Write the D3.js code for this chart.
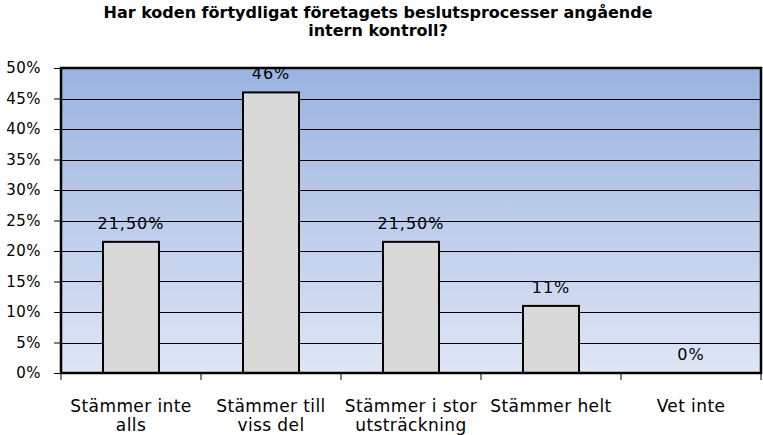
<!DOCTYPE html>
<html>
<head>
<meta charset="utf-8">
<script src="https://cdn.jsdelivr.net/npm/d3@7"></script>
<style>
  body { margin: 0; background: #fff; }
  svg { display: block; }
</style>
</head>
<body>
<div id="chart" style="width:763px;height:435px"></div>
<script>
var titleLines = ["Har koden förtydligat företagets beslutsprocesser angående", "intern kontroll?"];
var categories = [["Stämmer inte", "alls"], ["Stämmer till", "viss del"], ["Stämmer i stor", "utsträckning"], ["Stämmer helt"], ["Vet inte"]];
var values = [21.5, 46, 21.5, 11, 0];
var valueLabels = ["21,50%", "46%", "21,50%", "11%", "0%"];
var yTicks = [0, 5, 10, 15, 20, 25, 30, 35, 40, 45, 50];

var width = 763, height = 435;
var plot = { left: 61, right: 761, top: 68, bottom: 373 };
var font = "'DejaVu Sans', Verdana, sans-serif";

var svg = d3.select("#chart").append("svg")
  .attr("width", width)
  .attr("height", height);

// background gradient of plot area
var grad = svg.append("defs").append("linearGradient")
  .attr("id", "bg").attr("x1", 0).attr("y1", 0).attr("x2", 0).attr("y2", 1);
grad.append("stop").attr("offset", "0%").attr("stop-color", "#9ab3e0");
grad.append("stop").attr("offset", "100%").attr("stop-color", "#dfe6f5");

// title
svg.append("g").selectAll("text")
  .data(titleLines)
  .enter().append("text")
  .attr("x", 378)
  .attr("y", function(d, i) { return 18 + i * 18; })
  .attr("text-anchor", "middle")
  .style("font-family", font)
  .style("font-weight", "bold")
  .style("font-size", "16px")
  .text(function(d) { return d; });

var x = d3.scaleBand()
  .domain(d3.range(categories.length))
  .range([plot.left, plot.right])
  .paddingInner(0.6)
  .paddingOuter(0.3);

var xCat = d3.scaleBand()
  .domain(d3.range(categories.length))
  .range([plot.left, plot.right]);

var y = d3.scaleLinear()
  .domain([0, 50])
  .range([plot.bottom, plot.top]);

svg.append("rect")
  .attr("x", plot.left).attr("y", plot.top)
  .attr("width", plot.right - plot.left)
  .attr("height", plot.bottom - plot.top)
  .attr("fill", "url(#bg)");

// gridlines
svg.append("g").selectAll("line")
  .data(yTicks.slice(1, -1))
  .enter().append("line")
  .attr("x1", plot.left).attr("x2", plot.right)
  .attr("y1", function(d) { return Math.round(y(d)) + 0.5; })
  .attr("y2", function(d) { return Math.round(y(d)) + 0.5; })
  .attr("stroke", "#000").attr("stroke-width", 1);

// y axis
var yAxis = svg.append("g")
  .attr("transform", "translate(" + plot.left + ",0)")
  .call(d3.axisLeft(y).tickValues(yTicks).tickSize(7).tickPadding(13)
    .tickFormat(function(d) { return d + "%"; }));
yAxis.select(".domain").remove();
yAxis.selectAll("line").attr("stroke", "#000");
yAxis.selectAll("text")
  .style("font-family", font)
  .style("font-size", "15px")
  .style("letter-spacing", "0.5px")
  .attr("fill", "#000");

// x axis ticks
svg.append("g")
  .attr("transform", "translate(0," + plot.bottom + ")")
  .selectAll("line")
  .data(d3.range(categories.length + 1))
  .enter().append("line")
  .attr("x1", function(d) { return plot.left + d * xCat.step(); })
  .attr("x2", function(d) { return plot.left + d * xCat.step(); })
  .attr("y1", 0).attr("y2", 7)
  .attr("stroke", "#000");

// category labels
var catLabel = svg.append("g").selectAll("text")
  .data(categories)
  .enter().append("text")
  .attr("text-anchor", "middle")
  .attr("x", function(d, i) { return xCat(i) + xCat.bandwidth() / 2; })
  .attr("y", 412)
  .style("font-family", font)
  .style("font-size", "17px")
  .style("letter-spacing", "0.4px")
  .attr("fill", "#000");
catLabel.selectAll("tspan")
  .data(function(d) { return d; })
  .enter().append("tspan")
  .attr("x", function() { return d3.select(this.parentNode).attr("x"); })
  .attr("dy", function(d, i) { return i === 0 ? 0 : 19; })
  .text(function(d) { return d; });

// bars
svg.append("g").selectAll("rect")
  .data(values.map(function(v, i) { return { v: v, i: i }; }).filter(function(d) { return d.v > 0; }))
  .enter().append("rect")
  .attr("x", function(d) { return x(d.i); })
  .attr("y", function(d) { return y(d.v); })
  .attr("width", x.bandwidth())
  .attr("height", function(d) { return y(0) - y(d.v); })
  .attr("fill", "#d9d9d9")
  .attr("stroke", "#000")
  .attr("stroke-width", 2);

// value labels
svg.append("g").selectAll("text")
  .data(values)
  .enter().append("text")
  .attr("text-anchor", "middle")
  .attr("x", function(d, i) { return x(i) + x.bandwidth() / 2; })
  .attr("y", function(d) { return y(d) - 13; })
  .style("font-family", font)
  .style("font-size", "16px")
  .style("letter-spacing", "1px")
  .attr("fill", "#000")
  .text(function(d, i) { return valueLabels[i]; });

// plot border
svg.append("rect")
  .attr("x", plot.left).attr("y", plot.top)
  .attr("width", plot.right - plot.left)
  .attr("height", plot.bottom - plot.top)
  .attr("fill", "none")
  .attr("stroke", "#000")
  .attr("stroke-width", 2.5);
</script>
</body>
</html>
